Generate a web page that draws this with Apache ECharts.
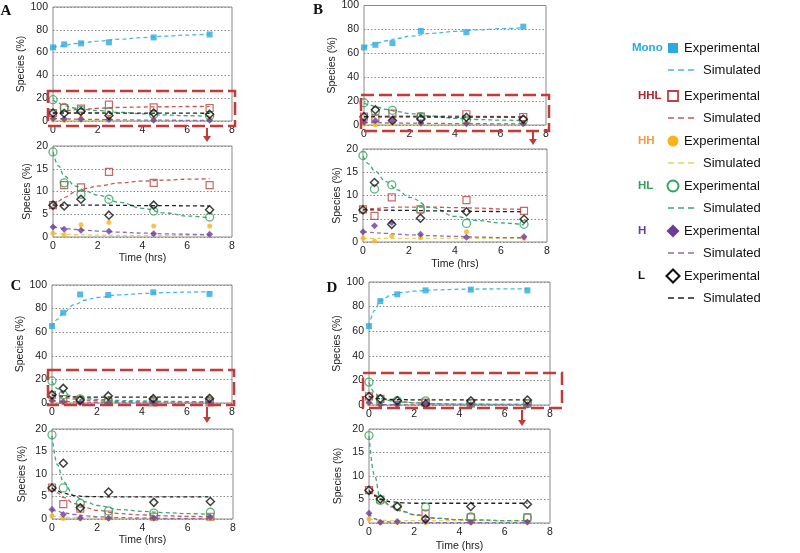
<!DOCTYPE html>
<html>
<head>
<meta charset="utf-8">
<script src="https://cdn.jsdelivr.net/npm/echarts@6/dist/echarts.min.js"></script>
<style>html,body{margin:0;padding:0;background:#fff}#c{width:800px;height:553px}</style>
</head>
<body>
<div id="c"></div>
<script>
// ---------- DATA ----------
const T = [0, 0.5, 1.25, 2.5, 4.5, 7];
const SIM_T = [0, 0.25, 0.5, 1, 1.5, 2, 3, 4, 5, 6, 7];
const SPECIES = ['Mono', 'HHL', 'HH', 'HL', 'H', 'L'];
const PANELS = ['A', 'B', 'C', 'D'];
const X_TICKS = [0, 2, 4, 6, 8];
const Y_TOP_TICKS = [0, 20, 40, 60, 80, 100];
const Y_BOT_TICKS = [0, 5, 10, 15, 20];

// Panel A
const A_EXP_MONO = [64.6, 67.2, 68.1, 69.0, 73.3, 75.9];
const A_SIM_MONO = [64.5, 65.5, 66.4, 67.9, 69.1, 70.1, 71.8, 73.2, 74.4, 75.4, 76.2];
const A_EXP_HHL = [7.0, 11.4, 10.9, 14.3, 11.9, 11.4];
const A_SIM_HHL = [7.0, 7.9, 8.7, 9.9, 10.7, 11.2, 11.9, 12.3, 12.5, 12.7, 12.8];
const A_EXP_HH = [0.8, 0.5, 2.7, 3.2, 2.4, 2.4];
const A_SIM_HH = [0.8, 0.7, 0.6, 0.5, 0.45, 0.4, 0.35, 0.3, 0.3, 0.3, 0.3];
const A_EXP_HL = [18.7, 11.9, 9.4, 8.3, 5.7, 4.4];
const A_SIM_HL = [18.7, 15.6, 13.4, 11.2, 10.0, 9.2, 7.6, 6.3, 5.3, 4.6, 4.2];
const A_EXP_H = [2.2, 1.7, 1.5, 1.25, 0.7, 0.6];
const A_SIM_H = [2.2, 2.05, 1.9, 1.65, 1.45, 1.3, 1.05, 0.85, 0.7, 0.6, 0.5];
const A_EXP_L = [7.0, 6.8, 8.3, 4.8, 7.0, 6.0];
const A_SIM_L = [7.0, 7.0, 7.0, 7.0, 7.0, 7.0, 6.95, 6.9, 6.9, 6.85, 6.8];

// Panel B
const B_EXP_MONO = [64.9, 67.1, 68.5, 78.7, 77.6, 82.3];
const B_SIM_MONO = [64.9, 66.8, 68.3, 70.5, 72.5, 74.3, 76.7, 78.3, 79.6, 80.6, 81.4];
const B_EXP_HHL = [7.0, 5.6, 9.6, 7.0, 9.0, 6.7];
const B_SIM_HHL = [7.0, 7.1, 7.2, 7.4, 7.5, 7.5, 7.5, 7.4, 7.3, 7.1, 7.0];
const B_EXP_HH = [0.8, 0.2, 1.3, 0.9, 2.2, 0.8];
const B_SIM_HH = [0.8, 0.8, 0.8, 0.8, 0.8, 0.8, 0.8, 0.8, 0.8, 0.8, 0.8];
const B_EXP_HL = [18.6, 11.4, 12.3, 6.9, 4.0, 3.8];
const B_SIM_HL = [18.5, 16.8, 15.3, 13.0, 11.2, 9.6, 7.4, 5.5, 4.6, 4.1, 3.7];
const B_EXP_H = [2.2, 3.5, 4.2, 1.65, 1.0, 1.15];
const B_SIM_H = [2.2, 2.1, 2.0, 1.85, 1.7, 1.55, 1.35, 1.2, 1.05, 0.95, 0.9];
const B_EXP_L = [6.9, 12.8, 3.8, 5.1, 6.5, 4.9];
const B_SIM_L = [6.9, 6.9, 6.9, 6.85, 6.8, 6.8, 6.7, 6.65, 6.6, 6.55, 6.5];

// Panel C
const C_EXP_MONO = [65.2, 76.5, 92.0, 91.5, 93.8, 92.4];
const C_SIM_MONO = [64.5, 71.0, 76.5, 83.5, 87.3, 89.4, 91.6, 92.8, 93.5, 94.0, 94.3];
const C_EXP_HHL = [7.0, 3.3, 2.3, 1.0, 0.5, 0.5];
const C_SIM_HHL = [7.0, 5.8, 4.8, 3.4, 2.5, 1.9, 1.2, 0.9, 0.7, 0.6, 0.5];
const C_EXP_HH = [0.75, 0.1, 0.1, 0.1, 0.1, 0.1];
const C_SIM_HH = [0.7, 0.55, 0.45, 0.3, 0.25, 0.2, 0.2, 0.2, 0.2, 0.2, 0.2];
const C_EXP_HL = [18.7, 6.9, 3.5, 1.8, 1.3, 1.5];
const C_SIM_HL = [18.5, 12.0, 8.2, 5.0, 3.8, 3.0, 2.1, 1.7, 1.4, 1.2, 1.0];
const C_EXP_H = [2.1, 1.0, 0.2, 0.15, 0.2, 0.4];
const C_SIM_H = [2.1, 1.7, 1.4, 1.0, 0.7, 0.5, 0.3, 0.2, 0.1, 0.1, 0.1];
const C_EXP_L = [6.9, 12.4, 2.5, 6.0, 3.7, 3.9];
const C_SIM_L = [6.9, 6.2, 5.7, 5.2, 5.0, 4.95, 4.9, 4.9, 4.9, 4.9, 4.9];

// Panel D
const D_EXP_MONO = [64.1, 84.5, 90.0, 93.2, 93.8, 93.2];
const D_SIM_MONO = [64.0, 77.0, 85.0, 89.5, 91.5, 92.6, 93.6, 94.1, 94.3, 94.4, 94.4];
const D_EXP_HHL = [7.0, 5.0, null, 2.0, 1.2, 1.2];
const D_SIM_HHL = [7.0, 6.0, 5.1, 3.6, 2.5, 1.8, 1.0, 0.7, 0.6, 0.5, 0.5];
const D_EXP_HH = [0.9, 0.1, 0.1, 0.1, 0.1, 0.1];
const D_SIM_HH = [0.9, 0.7, 0.6, 0.5, 0.5, 0.5, 0.5, 0.5, 0.5, 0.5, 0.5];
const D_EXP_HL = [18.6, 4.8, 3.5, 3.4, 1.3, 1.1];
const D_SIM_HL = [18.5, 10.0, 5.2, 3.4, 2.4, 1.7, 1.0, 0.7, 0.6, 0.5, 0.5];
const D_EXP_H = [2.1, 0.15, 0.3, 0.35, 0.15, 0.2];
const D_SIM_H = [2.1, 0.9, 0.4, 0.2, 0.1, 0.1, 0.1, 0.1, 0.1, 0.1, 0.1];
const D_EXP_L = [6.95, 5.1, 3.5, 0.85, 3.5, 4.0];
const D_SIM_L = [6.9, 5.8, 5.0, 4.5, 4.3, 4.2, 4.2, 4.2, 4.2, 4.2, 4.2];

const EXP = {
  A: [A_EXP_MONO, A_EXP_HHL, A_EXP_HH, A_EXP_HL, A_EXP_H, A_EXP_L],
  B: [B_EXP_MONO, B_EXP_HHL, B_EXP_HH, B_EXP_HL, B_EXP_H, B_EXP_L],
  C: [C_EXP_MONO, C_EXP_HHL, C_EXP_HH, C_EXP_HL, C_EXP_H, C_EXP_L],
  D: [D_EXP_MONO, D_EXP_HHL, D_EXP_HH, D_EXP_HL, D_EXP_H, D_EXP_L]
};
const SIM = {
  A: [A_SIM_MONO, A_SIM_HHL, A_SIM_HH, A_SIM_HL, A_SIM_H, A_SIM_L],
  B: [B_SIM_MONO, B_SIM_HHL, B_SIM_HH, B_SIM_HL, B_SIM_H, B_SIM_L],
  C: [C_SIM_MONO, C_SIM_HHL, C_SIM_HH, C_SIM_HL, C_SIM_H, C_SIM_L],
  D: [D_SIM_MONO, D_SIM_HHL, D_SIM_HH, D_SIM_HL, D_SIM_H, D_SIM_L]
};

// ---------- STYLE ----------
const FONT = 'Liberation Sans, Arial, sans-serif';
const STY = {
  Mono: {label: '#2aa9e0', sym: 'rect', size: 6, fill: '#2aa9e0', border: '#2aa9e0', bw: 0, line: '#45b8e8'},
  HHL: {label: '#a8282c', sym: 'rect', size: 7, fill: 'rgba(255,255,255,0)', border: '#b8443f', bw: 1.2, line: '#c45a55'},
  HH:  {label: '#ef9a45', sym: 'circle', size: 5, fill: '#f7b41c', border: '#f7b41c', bw: 0, line: '#e6d45c'},
  HL:  {label: '#2fa35a', sym: 'circle', size: 8, fill: 'rgba(255,255,255,0)', border: '#2fa35a', bw: 1.3, line: '#3aa779'},
  H:   {label: '#6a3d9a', sym: 'diamond', size: 7, fill: '#6a3d9a', border: '#6a3d9a', bw: 0, line: '#8e6bb8'},
  L:   {label: '#111', sym: 'diamond', size: 8, fill: 'rgba(255,255,255,0)', border: '#111', bw: 1.5, line: '#222'}
};

const GRIDS = [
  {left: 53, top: 7, width: 179, height: 114},   // A top
  {left: 53, top: 146, width: 179, height: 91},  // A bottom
  {left: 364, top: 5, width: 182, height: 120},  // B top
  {left: 363, top: 149, width: 184, height: 93}, // B bottom
  {left: 52, top: 285, width: 180, height: 118}, // C top
  {left: 52, top: 429, width: 181, height: 90},  // C bottom
  {left: 369, top: 282, width: 181, height: 123},// D top
  {left: 369, top: 429, width: 181, height: 94}  // D bottom
];
const YNAME_GAP = [20, 20, 24, 20, 20, 24, 25, 25];
const XNAME_GAP = [0, 12, 0, 17, 0, 15, 0, 18];

const grid = [], xAxis = [], yAxis = [], series = [];
GRIDS.forEach((g, i) => {
  const isTop = i % 2 === 0;
  grid.push(Object.assign({show: true, borderColor: '#8a8a8a', borderWidth: 1, containLabel: false}, g));
  xAxis.push({
    type: 'value', gridIndex: i, min: X_TICKS[0], max: X_TICKS[X_TICKS.length - 1], interval: 2,
    axisLine: {show: false}, axisTick: {show: false}, splitLine: {show: false},
    axisLabel: {fontSize: 10.5, color: '#222', fontFamily: FONT, margin: 4},
    name: isTop ? '' : 'Time (hrs)', nameLocation: 'middle', nameGap: XNAME_GAP[i],
    nameTextStyle: {fontSize: 10.5, color: '#222', fontFamily: FONT}
  });
  const ticks = isTop ? Y_TOP_TICKS : Y_BOT_TICKS;
  yAxis.push({
    type: 'value', gridIndex: i, min: ticks[0], max: ticks[ticks.length - 1], interval: ticks[1] - ticks[0],
    axisLine: {show: false}, axisTick: {show: false},
    splitLine: {show: true, lineStyle: {type: [1.5, 2], color: '#8a8a8a', width: 1}},
    axisLabel: {fontSize: 10.5, color: '#222', fontFamily: FONT, margin: 5},
    name: 'Species (%)', nameLocation: 'middle', nameGap: YNAME_GAP[i],
    nameTextStyle: {fontSize: 10.5, color: '#222', fontFamily: FONT}
  });
});

PANELS.forEach((p, pi) => {
  [0, 1].forEach(k => {
    const gi = pi * 2 + k;
    SPECIES.forEach((s, si) => {
      const st = STY[s];
      series.push({
        type: 'line', name: s + ' Simulated', xAxisIndex: gi, yAxisIndex: gi,
        data: SIM_T.map((t, j) => [t, SIM[p][si][j]]),
        showSymbol: false, symbol: 'none', smooth: 0.4, smoothMonotone: 'x',
        lineStyle: {color: st.line, width: 1.3, type: [4, 3]}, z: 2, silent: true, animation: false
      });
      series.push({
        type: 'scatter', name: s + ' Experimental', xAxisIndex: gi, yAxisIndex: gi,
        data: T.map((t, j) => [t, EXP[p][si][j]]).filter(d => d[1] != null),
        symbol: st.sym, symbolSize: st.size,
        itemStyle: {color: st.fill, borderColor: st.border, borderWidth: st.bw},
        z: 3, silent: true, animation: false, clip: true
      });
    });
  });
});

// ---------- ANNOTATIONS ----------
const RED = '#c43b3b';
const graphic = [];
function box(x1, y1, x2, y2) {
  graphic.push({type: 'rect', shape: {x: x1, y: y1, width: x2 - x1, height: y2 - y1},
    style: {fill: 'none', stroke: RED, lineWidth: 2.5, lineDash: [13, 5]}, z: 10});
}
function arrow(x, y1, y2) {
  graphic.push({type: 'line', shape: {x1: x, y1: y1, x2: x, y2: y2 - 5}, style: {stroke: RED, lineWidth: 2}, z: 10});
  graphic.push({type: 'polygon', shape: {points: [[x - 4, y2 - 6], [x + 4, y2 - 6], [x, y2]]}, style: {fill: RED}, z: 10});
}
box(48, 91, 235, 126); arrow(207, 128, 142);
box(361, 95, 549, 131); arrow(533, 131, 145);
box(48, 370, 234, 405); arrow(207, 407, 423);
box(363, 373, 562, 408); arrow(522, 410, 426);

[['A', 6, 11], ['B', 318, 10], ['C', 16, 286], ['D', 332, 288]].forEach(([t, x, y]) => {
  graphic.push({type: 'text', x: x, y: y, style: {text: t, fontFamily: 'Liberation Serif, Times New Roman, serif',
    fontWeight: 'bold', fontSize: 15, fill: '#111', align: 'center', verticalAlign: 'middle'}});
});

// Legend (custom layout)
const LEG_ROW = [48, 96, 141, 186, 231, 276];
SPECIES.forEach((s, i) => {
  const st = STY[s];
  const y0 = LEG_ROW[i];
  graphic.push({type: 'text', x: s === 'Mono' ? 632 : 638, y: y0, style: {text: s, fontFamily: FONT, fontWeight: 'bold',
    fontSize: 11.5, fill: st.label, verticalAlign: 'middle'}});
  const ms = {fill: st.fill === 'rgba(255,255,255,0)' ? '#fff' : st.fill, stroke: st.border, lineWidth: st.bw ? st.bw + 0.6 : 0};
  if (st.sym === 'rect') {
    graphic.push({type: 'rect', shape: {x: 668, y: y0 - 5, width: 10, height: 10}, style: ms});
  } else if (st.sym === 'circle') {
    graphic.push({type: 'circle', shape: {cx: 673, cy: y0, r: 5.5}, style: ms});
  } else {
    graphic.push({type: 'polygon', shape: {points: [[673, y0 - 6.5], [679.5, y0], [673, y0 + 6.5], [666.5, y0]]}, style: ms});
  }
  graphic.push({type: 'text', x: 684, y: y0, style: {text: 'Experimental', fontFamily: FONT, fontSize: 13, fill: '#111', verticalAlign: 'middle'}});
  graphic.push({type: 'line', shape: {x1: 668, y1: y0 + 22, x2: 694, y2: y0 + 22}, style: {stroke: st.line, lineWidth: 1.6, lineDash: [6, 4]}});
  graphic.push({type: 'text', x: 703, y: y0 + 22, style: {text: 'Simulated', fontFamily: FONT, fontSize: 13, fill: '#111', verticalAlign: 'middle'}});
});

const chart = echarts.init(document.getElementById('c'), null, {renderer: 'canvas'});
chart.setOption({animation: false, backgroundColor: '#fff', grid, xAxis, yAxis, series, graphic});
</script>
</body>
</html>
